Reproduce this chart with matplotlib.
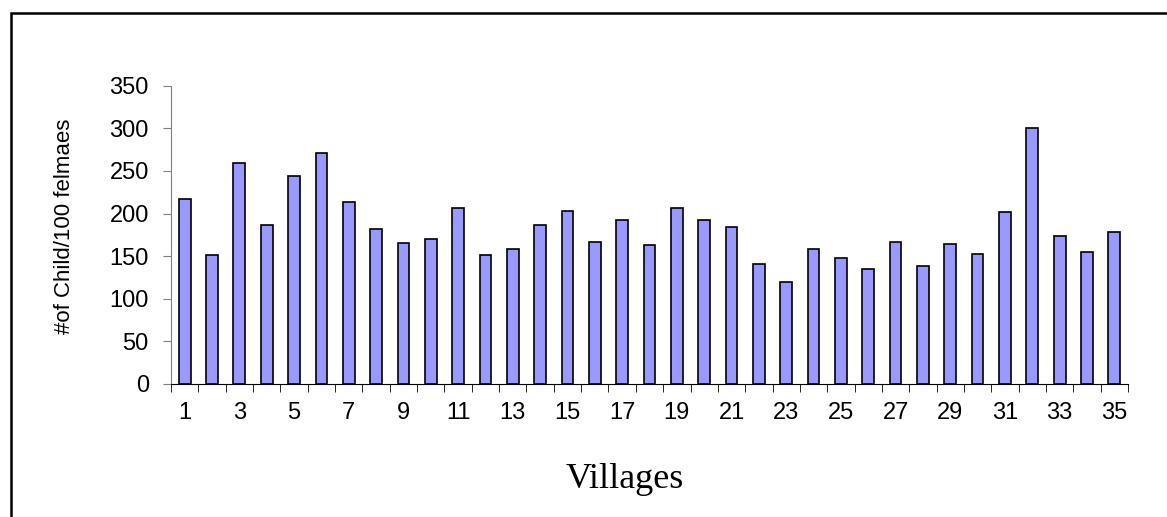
import matplotlib
matplotlib.use('Agg')
import matplotlib.pyplot as plt
from matplotlib.patches import Rectangle

# Данные: число детей на 100 женщин по деревням
villages = list(range(1, 36))
child_per_100 = [217, 151, 259, 186, 244, 271, 214, 182, 165, 170,
                 207, 151, 158, 186, 203, 167, 193, 163, 207, 193,
                 184, 141, 120, 158, 148, 135, 167, 139, 164, 153,
                 202, 300, 174, 155, 178]
y_ticks = [0, 50, 100, 150, 200, 250, 300, 350]

fig = plt.figure(figsize=(11.67, 5.17), dpi=100)
ax = fig.add_axes([171/1167, 1 - 384/517, 957/1167, (384 - 85.7)/517])

x = [v - 1 for v in villages]
ax.bar(x, child_per_100, width=0.43, color='#9999FF', edgecolor='black', linewidth=1.2)

ax.set_xlim(-0.5, len(villages) - 0.5)
ax.set_ylim(0, 350)
ax.set_yticks(y_ticks)

# подписи через одну, засечки между столбцами
ax.set_xticks(x[::2])
ax.set_xticklabels([str(v) for v in villages[::2]])
ax.set_xticks([i - 0.5 for i in range(len(villages) + 1)], minor=True)
ax.tick_params(axis='x', which='major', length=0, pad=13)
ax.tick_params(axis='x', which='minor', length=6, direction='out', color='black')
ax.tick_params(axis='y', length=6, direction='out', color='#808080', pad=10)

for lab in ax.get_xticklabels() + ax.get_yticklabels():
    lab.set_fontfamily('Liberation Sans')
    lab.set_fontsize(17)

ax.spines['top'].set_visible(False)
ax.spines['right'].set_visible(False)
ax.spines['left'].set_color('#808080')
ax.spines['bottom'].set_color('black')

fig.text(65/1167, 1 - 226/517, '#of Child/100 felmaes', rotation=90,
         ha='center', va='center', fontsize=16, family='Liberation Sans')
fig.text(625/1167, 1 - 479/517, 'Villages', ha='center', va='center',
         fontsize=26, family='Liberation Serif')

# рамка вокруг диаграммы
fig.patches.append(Rectangle((11/1167, -0.1), 1.2, 1 - 13/517 + 0.1,
                             transform=fig.transFigure, fill=False,
                             edgecolor='black', linewidth=1.8))

fig.savefig('out.png', dpi=100)
